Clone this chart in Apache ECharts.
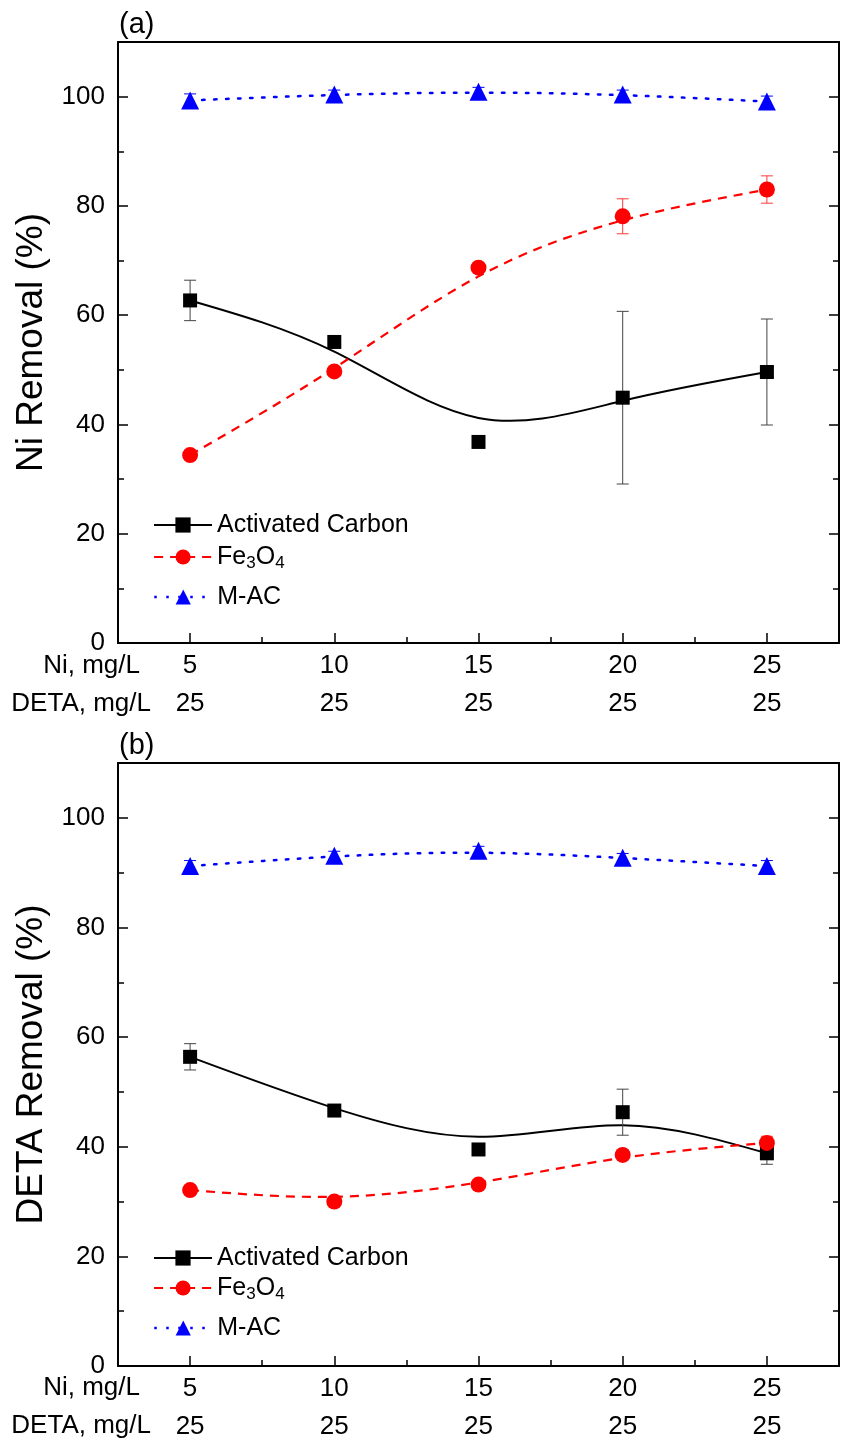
<!DOCTYPE html>
<html><head><meta charset="utf-8">
<script src="https://cdn.jsdelivr.net/npm/echarts@6/dist/echarts.min.js"></script>
<style>html,body{margin:0;padding:0;background:#fff}#c{width:843px;height:1447px}</style>
</head><body><div id="c"></div>
<script>
// ---- data ----
const niConc = [5, 10, 15, 20, 25];
const detaConc = [25, 25, 25, 25, 25];
const seriesNames = ['Activated Carbon', 'Fe3O4', 'M-AC'];
const yTickValues = [0, 20, 40, 60, 80, 100];
// panel (a): Ni removal (%)
const niAC = [62.7, 55.1, 36.8, 44.9, 49.6];
const niACErr = [3.7, 0, 0, 15.8, 9.7];
const niFe = [34.4, 49.7, 68.7, 78.1, 83.0];
const niFeErr = [0, 0, 0, 3.2, 2.5];
const niMAC = [99.3, 100.4, 100.9, 100.4, 99.1];
const niMACErr = [1.2, 0.8, 0.8, 0.8, 1.0];
// panel (b): DETA removal (%)
const detaAC = [56.4, 46.6, 39.5, 46.3, 38.8];
const detaACErr = [2.4, 0, 0, 4.2, 2.0];
const detaFe = [32.1, 30.0, 33.1, 38.5, 40.7];
const detaFeErr = [0, 0, 0, 0, 1.2];
const detaMAC = [91.2, 93.1, 94.0, 92.7, 91.2];
const detaMACErr = [1.0, 0.8, 0.8, 0.8, 1.0];

const FONT = 'Arial, "Liberation Sans", Helvetica, sans-serif';
const styles = {
  'Activated Carbon': {color: '#000000', dash: null, width: 2, symbol: 'rect', size: 14, err: '#444444'},
  'Fe3O4': {color: '#ff0000', dash: [9, 7], width: 2.2, symbol: 'circle', size: 16, err: '#ff3a3a'},
  'M-AC': {color: '#0000ff', dash: [2.5, 9.5], width: 2.5, symbol: 'triangle', size: 18, err: '#0000ff'}
};

const panels = [
  {title: '(a)', yName: 'Ni Removal (%)', vals: [niAC, niFe, niMAC], errs: [niACErr, niFeErr, niMACErr],
   grid: {left: 118, right: 4, top: 42, height: 601}, legendTops: [510, 542, 582], titleTop: 10, rowY: [666, 704]},
  {title: '(b)', yName: 'DETA Removal (%)', vals: [detaAC, detaFe, detaMAC], errs: [detaACErr, detaFeErr, detaMACErr],
   grid: {left: 118, right: 4, top: 763, height: 603}, legendTops: [1243, 1273, 1313], titleTop: 731, rowY: [1388, 1426]}
];

function splineSeries(vals, st, p) {
  return {
    type: 'custom', name: '_fit', xAxisIndex: p * 3, yAxisIndex: p * 4, z: 2, silent: true,
    data: vals.map((v, i) => [i, v]),
    renderItem: function (params, api) {
      if (params.dataIndex !== 0) return;
      const P = vals.map((v, i) => api.coord([i, v]));
      const n = P.length;
      const Q = [[2 * P[0][0] - P[1][0], 2 * P[0][1] - P[1][1]]].concat(P,
        [[2 * P[n - 1][0] - P[n - 2][0], 2 * P[n - 1][1] - P[n - 2][1]]]);
      let d = 'M' + P[0][0] + ' ' + P[0][1];
      for (let j = 0; j < Q.length - 3; j++) {
        const B = Q[j + 1], C = Q[j + 2], D = Q[j + 3];
        const c1 = [(2 * B[0] + C[0]) / 3, (2 * B[1] + C[1]) / 3];
        const c2 = [(B[0] + 2 * C[0]) / 3, (B[1] + 2 * C[1]) / 3];
        const e = [(B[0] + 4 * C[0] + D[0]) / 6, (B[1] + 4 * C[1] + D[1]) / 6];
        d += ' C' + c1[0] + ' ' + c1[1] + ' ' + c2[0] + ' ' + c2[1] + ' ' + e[0] + ' ' + e[1];
      }
      return {type: 'path', shape: {pathData: d},
        style: {fill: 'none', stroke: st.color, lineWidth: st.width, lineDash: st.dash, lineCap: st.dash && st.dash[0] < 4 ? 'round' : 'butt'}};
    }
  };
}

function errSeries(vals, errs, st, p) {
  const data = [];
  vals.forEach((v, i) => { if (errs[i] > 0) data.push([i, v, errs[i]]); });
  return {
    type: 'custom', name: '_err', xAxisIndex: p * 3, yAxisIndex: p * 4, z: 3, silent: true,
    data: data,
    renderItem: function (params, api) {
      const x = api.value(0), v = api.value(1), e = api.value(2);
      const t = api.coord([x, v + e]), b = api.coord([x, v - e]);
      const hw = 6;
      const s = {stroke: st.err, lineWidth: 1};
      return {type: 'group', children: [
        {type: 'line', shape: {x1: t[0], y1: t[1], x2: b[0], y2: b[1]}, style: s},
        {type: 'line', shape: {x1: t[0] - hw, y1: t[1], x2: t[0] + hw, y2: t[1]}, style: s},
        {type: 'line', shape: {x1: b[0] - hw, y1: b[1], x2: b[0] + hw, y2: b[1]}, style: s}
      ]};
    }
  };
}

const grids = [], xAxes = [], yAxes = [], series = [], legends = [], titles = [], graphics = [];
const axisLineStyle = {color: '#000', width: 2};
panels.forEach((pn, p) => {
  grids.push(Object.assign({containLabel: false}, pn.grid));
  const cats = niConc.map(String);
  xAxes.push({gridIndex: p, type: 'category', data: cats, position: 'bottom', boundaryGap: true,
    axisLine: {show: true, onZero: false, lineStyle: axisLineStyle},
    axisTick: {show: true, inside: true, alignWithLabel: true, length: 10, lineStyle: {color: '#000', width: 1.5}},
    axisLabel: {show: true, interval: 0, margin: 4, color: '#000',
      formatter: (v, i) => '{a|' + niConc[i] + '}\n{b|' + detaConc[i] + '}',
      rich: {a: {fontSize: 26, lineHeight: 38, fontFamily: FONT, color: '#000'},
             b: {fontSize: 26, lineHeight: 38, fontFamily: FONT, color: '#000'}}},
    splitLine: {show: false}});
  xAxes.push({gridIndex: p, type: 'category', data: cats, position: 'bottom', boundaryGap: true,
    axisLine: {show: false, onZero: false},
    axisTick: {show: true, inside: true, alignWithLabel: false, interval: 0, length: 6, lineStyle: {color: '#000', width: 1.5}},
    axisLabel: {show: false}, splitLine: {show: false}});
  xAxes.push({gridIndex: p, type: 'category', data: cats, position: 'top', boundaryGap: true,
    axisLine: {show: true, onZero: false, lineStyle: axisLineStyle},
    axisTick: {show: false}, axisLabel: {show: false}, splitLine: {show: false}});

  yAxes.push({gridIndex: p, type: 'value', min: 0, max: 110, interval: 20, position: 'left',
    name: pn.yName, nameLocation: 'middle', nameGap: 65,
    nameTextStyle: {fontSize: 37, color: '#000', fontFamily: FONT},
    axisLine: {show: true, onZero: false, lineStyle: axisLineStyle},
    axisTick: {show: true, inside: true, length: 10, lineStyle: {color: '#000', width: 1.5}},
    axisLabel: {show: true, margin: 13, fontSize: 26, color: '#000', fontFamily: FONT, showMaxLabel: false,
      formatter: v => (yTickValues.indexOf(v) >= 0 ? String(v) : '')},
    splitLine: {show: false}});
  yAxes.push({gridIndex: p, type: 'value', min: 0, max: 110, interval: 10, position: 'left',
    axisLine: {show: false, onZero: false},
    axisTick: {show: true, inside: true, length: 6, lineStyle: {color: '#000', width: 1.5}},
    axisLabel: {show: false}, splitLine: {show: false}});
  yAxes.push({gridIndex: p, type: 'value', min: 0, max: 110, interval: 20, position: 'right',
    axisLine: {show: true, onZero: false, lineStyle: axisLineStyle},
    axisTick: {show: true, inside: true, length: 10, lineStyle: {color: '#000', width: 1.5}},
    axisLabel: {show: false}, splitLine: {show: false}});
  yAxes.push({gridIndex: p, type: 'value', min: 0, max: 110, interval: 10, position: 'right',
    axisLine: {show: false, onZero: false},
    axisTick: {show: true, inside: true, length: 6, lineStyle: {color: '#000', width: 1.5}},
    axisLabel: {show: false}, splitLine: {show: false}});

  seriesNames.forEach((name, k) => {
    const st = styles[name];
    series.push(splineSeries(pn.vals[k], st, p));
    series.push(errSeries(pn.vals[k], pn.errs[k], st, p));
    series.push({type: 'line', name: name, xAxisIndex: p * 3, yAxisIndex: p * 4, z: 5,
      data: pn.vals[k], symbol: st.symbol, symbolSize: st.size, showSymbol: true,
      itemStyle: {color: st.color, opacity: 1}, lineStyle: {opacity: 0, color: st.color},
      emphasis: {disabled: true}, silent: true});
    legends.push({data: [{name: name, lineStyle: {color: st.color, width: st.width, type: st.dash || 'solid', opacity: 1}}],
      orient: 'vertical', left: 153, top: pn.legendTops[k], padding: 0,
      itemWidth: 58, itemHeight: 19, selectedMode: false,
      textStyle: {fontSize: 25, color: '#000', fontFamily: FONT, lineHeight: 30,
        rich: {s: {fontSize: 17, lineHeight: 4, verticalAlign: 'bottom', fontFamily: FONT, color: '#000'}}},
      formatter: n => (n === 'Fe3O4' ? 'Fe{s|3}O{s|4}' : n)});
  });

  titles.push({text: pn.title, left: 119, top: pn.titleTop, padding: 0,
    textStyle: {fontSize: 29, fontWeight: 'normal', color: '#000', fontFamily: FONT}});
  graphics.push({type: 'text', x: 140, y: pn.rowY[0], style: {text: 'Ni, mg/L', fontSize: 26, fontFamily: FONT, fill: '#000', align: 'right', verticalAlign: 'middle'}});
  graphics.push({type: 'text', x: 151, y: pn.rowY[1], style: {text: 'DETA, mg/L', fontSize: 26, fontFamily: FONT, fill: '#000', align: 'right', verticalAlign: 'middle'}});
});

const chart = echarts.init(document.getElementById('c'), null, {renderer: 'canvas'});
chart.setOption({
  animation: false,
  backgroundColor: '#fff',
  textStyle: {fontFamily: FONT},
  title: titles,
  grid: grids,
  xAxis: xAxes,
  yAxis: yAxes,
  legend: legends,
  series: series,
  graphic: graphics
});
</script>
</body></html>
